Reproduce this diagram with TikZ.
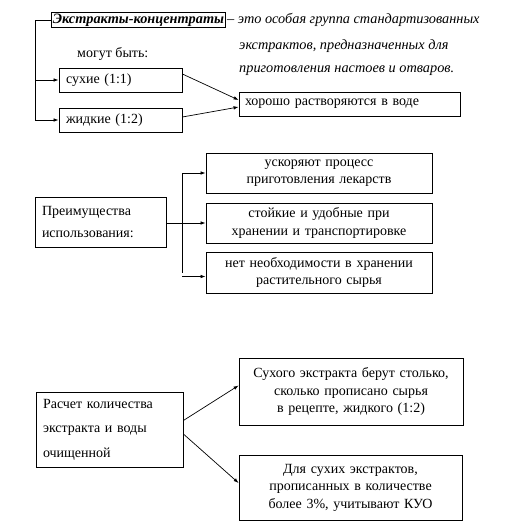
\documentclass[tikz,border=0pt]{standalone}
\usepackage{fontspec}
\setmainfont{Liberation Serif}
\usetikzlibrary{positioning, calc, arrows.meta}

\begin{document}
\begin{tikzpicture}[x=1pt, y=-1pt,
	every node/.style={font=\fontsize{14}{17.5}\selectfont},
	box/.style={draw, line width=0.8pt, inner sep=0pt, align=center},
	lbox/.style={draw, line width=0.8pt, inner xsep=7pt, inner ysep=0pt, align=left},
	note/.style={anchor=west, inner sep=0pt, font=\fontsize{14.3}{17}\selectfont\itshape},
	link/.style={line width=0.7pt, -{Latex[length=5pt,width=3.5pt]}},
	trunk/.style={line width=0.8pt}]
			\useasboundingbox (0,0) rectangle (528,528);
			%% top part
			\node[draw, line width=0.8pt, inner xsep=1.5pt, inner ysep=1pt, font=\fontsize{14.3}{17}\selectfont\bfseries\itshape] (title) at (138.5,20) {Экстракты-концентраты};
			\node[note, inner sep=1pt] (defa) at (title.east) {– это особая группа стандартизованных};
			\node[note] (defb) at (239,46) {экстрактов, предназначенных для};
			\node[note] (defc) at (239,71) {приготовления настоев и отваров.};
			\node[anchor=west, inner sep=0pt] (maybe) at (77,54) {могут быть:};
			\node[lbox, text width=109pt, minimum height=24pt] (dry) at (120.5,80) {сухие (1:1)};
			\node[lbox, text width=109pt, minimum height=24pt] (liquid) at (120.5,120) {жидкие (1:2)};
			\node[lbox, inner xsep=6pt, text width=209pt, minimum height=24pt] (water) at (349.5,104) {хорошо растворяются в воде};
			\coordinate (left) at (35,20);
			\draw[trunk] (title.west) -- (left) -- (left |- liquid.west);
			\draw[link] (left |- dry.west) -- (dry.west);
			\draw[link] (left |- liquid.west) -- (liquid.west);
			\draw[link] ([yshift=6pt]dry.east) -- ([yshift=4pt]water.west);
			\draw[link] ([yshift=3pt]liquid.east) -- ([yshift=-3pt]water.west);
			%% advantages
			\node[lbox, text width=117pt, minimum height=50pt] (adv) at (100.5,222) {Преимущества\\[4pt]использования:};
			\node[box, text width=226pt, minimum height=40pt] (fast) at (319,173) {ускоряют процесс\\приготовления лекарств};
			\node[box, text width=226pt, minimum height=40pt] (stable) at (319,223) {стойкие и удобные при\\хранении и транспортировке};
			\node[box, text width=226pt, minimum height=41pt] (store) at (319,272.5) {нет необходимости в хранении\\растительного сырья};
			\coordinate (fork) at (182,223);
			\draw[trunk] (adv.east |- fork) -- (fork);
			\draw[trunk] (fork |- fast.west) -- (fork |- store.west);
			\draw[link] (fork |- fast.west) -- (fast.west);
			\draw[link] (fork) -- (stable.west);
			\draw[link] ([yshift=-4pt]fork |- store.west) -- ([yshift=-4pt]store.west);
			%% calculation
			\node[lbox, text width=133pt, minimum height=75pt] (calc) at (109.5,429.5) {Расчет количества\\[7pt]экстракта и воды\\[7pt]очищенной};
			\node[box, text width=224pt, minimum height=67pt] (dose) at (351,391.5) {Сухого экстракта берут столько,\\сколько прописано сырья\\в рецепте, жидкого (1:2)};
			\node[box, text width=223pt, minimum height=65pt] (kuo) at (350.5,487.5) {Для сухих экстрактов,\\прописанных в количестве\\более 3\%, учитывают КУО};
			\draw[link] ([yshift=9pt]calc.east) -- ([yshift=6pt]dose.west);
			\draw[link] ([yshift=-4.5pt]calc.east) -- ([yshift=4.5pt]kuo.west);
			\end{tikzpicture}
\end{document}
